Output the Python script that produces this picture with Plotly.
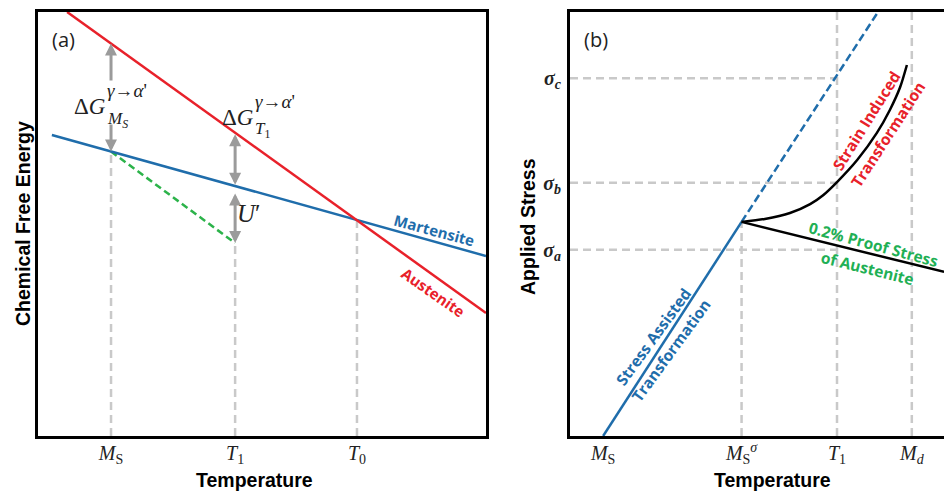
import plotly.graph_objects as go

W, H = 944, 491

# ---------------- Panel (a) data : Chemical free energy vs temperature ----------------
a_tick_vals = [1.63, 4.40, 7.12]          # M_S, T1, T0
a_tick_text = ["<i>M</i><sub>S</sub>", "<i>T</i><sub>1</sub>", "<i>T</i><sub>0</sub>"]
aus_x = [0.65, 10.0]
aus_y = [10.0, 2.90]
mart_x = [0.31, 10.0]
mart_y = [7.10, 4.245]
green_x = [1.63, 4.40]
green_y = [6.71, 4.55]
a_vline_x = [1.63, 4.40, 7.12]
a_vline_top = [6.71, 4.55, 5.09]

# ---------------- Panel (b) data : Applied stress vs temperature ----------------
b_tick_vals = [0.74, 3.83, 5.96, 7.63]     # M_S, M_S^sigma, T1, M_d
b_tick_text = ["<i>M</i><sub>S</sub>", "<i>M</i><sub>S</sub><sup><i>σ</i></sup>",
               "<i>T</i><sub>1</sub>", "<i>M</i><sub><i>d</i></sub>"]
b_ytick_vals = [4.39, 5.97, 8.44]          # sigma_a, sigma_b, sigma_c
b_ytick_text = ["<b><i>σ</i></b><sub><b><i>a</i></b></sub>",
                "<b><i>σ</i></b><sub><b><i>b</i></b></sub>",
                "<b><i>σ</i></b><sub><b><i>c</i></b></sub>"]
sat_x = [0.74, 3.83]
sat_y = [0.0, 5.05]
sat_ext_x = [3.83, 6.875]
sat_ext_y = [5.05, 10.0]
sit_x = [3.83, 4.35, 4.91, 5.36, 5.65, 5.96, 6.41, 6.85, 7.14, 7.37, 7.52]
sit_y = [5.05, 5.12, 5.26, 5.47, 5.68, 5.99, 6.51, 7.15, 7.69, 8.23, 8.75]
proof_x = [3.83, 8.35]
proof_y = [5.05, 3.87]
b_hline_y = [4.39, 5.97, 8.44]
b_hline_end = 5.96
b_vlines = [(3.83, 0.0, 5.05), (5.96, 0.0, 10.0), (7.63, 0.0, 10.0)]

RED = "#e8212a"
BLUE = "#1f6dab"
GREEN_T = "#1fb055"
GREEN_L = "#2cb34a"
GRAY_D = "#c9c9c9"
GRAY_A = "#9b9b9b"

# pixel geometry helpers (layout only)
AX0, AX1, BX0 = 38, 486, 570
YT, YB = 12, 436


def paper(x, y):
    return dict(x=x / W, y=1 - y / H, xref="paper", yref="paper")


def ya_px(py):  # pixel row -> data y (both panels share vertical scale)
    return (YB - py) / (YB - YT) * 10.0


fig = go.Figure()

gray = dict(color=GRAY_D, width=2.5, dash="8px,5px")
for xv, top in zip(a_vline_x, a_vline_top):
    fig.add_trace(go.Scatter(x=[xv, xv], y=[0, top], mode="lines", line=gray,
                             xaxis="x", yaxis="y", hoverinfo="skip"))
for yv in b_hline_y:
    fig.add_trace(go.Scatter(x=[0, b_hline_end], y=[yv, yv], mode="lines", line=gray,
                             xaxis="x2", yaxis="y2", hoverinfo="skip"))
for xv, y0, y1 in b_vlines:
    fig.add_trace(go.Scatter(x=[xv, xv], y=[y0, y1], mode="lines", line=gray,
                             xaxis="x2", yaxis="y2", hoverinfo="skip"))

fig.add_trace(go.Scatter(x=green_x, y=green_y, mode="lines",
                         line=dict(color=GREEN_L, width=2.5, dash="7px,4px"),
                         xaxis="x", yaxis="y"))
fig.add_trace(go.Scatter(x=mart_x, y=mart_y, mode="lines", line=dict(color=BLUE, width=2.5),
                         xaxis="x", yaxis="y"))
fig.add_trace(go.Scatter(x=aus_x, y=aus_y, mode="lines", line=dict(color=RED, width=2.5),
                         xaxis="x", yaxis="y"))

fig.add_trace(go.Scatter(x=sat_x, y=sat_y, mode="lines", line=dict(color=BLUE, width=2.5),
                         xaxis="x2", yaxis="y2"))
fig.add_trace(go.Scatter(x=sat_ext_x, y=sat_ext_y, mode="lines",
                         line=dict(color=BLUE, width=2.5, dash="8px,4px"),
                         xaxis="x2", yaxis="y2"))
fig.add_trace(go.Scatter(x=sit_x, y=sit_y, mode="lines",
                         line=dict(color="black", width=2.5, shape="spline", smoothing=0.7),
                         xaxis="x2", yaxis="y2"))
fig.add_trace(go.Scatter(x=proof_x, y=proof_y, mode="lines", line=dict(color="black", width=2.5),
                         xaxis="x2", yaxis="y2"))


def interp(xs, ys, x):
    return ys[0] + (ys[1] - ys[0]) * (x - xs[0]) / (xs[1] - xs[0])


MS, T1 = a_tick_vals[0], a_tick_vals[1]
arrows = []


def arrow(x, y_head, y_tail, both=False):
    d = dict(x=x, y=y_head, ax=x, ay=y_tail, xref="x", yref="y", axref="x", ayref="y",
             text="", showarrow=True, arrowhead=2, arrowsize=0.8, arrowwidth=3,
             arrowcolor=GRAY_A, standoff=0, startstandoff=0)
    if both:
        d.update(arrowside="end+start", startarrowhead=2, startarrowsize=0.8)
    arrows.append(d)


arrow(MS, interp(aus_x, aus_y, MS), ya_px(82))
arrow(MS, interp(mart_x, mart_y, MS), ya_px(123))
arrow(T1, interp(mart_x, mart_y, T1) + 0.03, interp(aus_x, aus_y, T1), both=True)
arrow(T1, green_y[1], ya_px(192), both=True)

SERIF = "Liberation Serif"
SANS_B = "Liberation Sans"
LBL = "Open Sans"


def txt(x, y, s, size, color="#222", family=SERIF, angle=0, xa="center", ya="middle", weight="normal"):
    d = paper(x, y)
    d.update(text=s, showarrow=False, textangle=angle, xanchor=xa, yanchor=ya,
             font=dict(size=size, color=color, family=family, weight=weight))
    return d


ann = arrows + [
    txt(63, 40, "(a)", 20, family=LBL),
    txt(596, 40, "(b)", 20, family=LBL),
    # delta G at M_S
    txt(90, 106, "Δ<i>G</i>", 23),
    txt(105, 91, "<i>γ</i>→<i>α</i>'", 19, xa="left"),
    txt(105, 120, "<i>M<sub>S</sub></i>", 17, xa="left"),
    # delta G at T1
    txt(238, 117, "Δ<i>G</i>", 23),
    txt(253, 101, "<i>γ</i>→<i>α</i>'", 19, xa="left"),
    txt(253, 130, "<i>T</i><sub>1</sub>", 17, xa="left"),
    txt(249, 213, "<i>U</i>′", 25),
    # curve labels
    txt(434, 230, "<b>Martensite</b>", 15, color=BLUE, family=LBL, angle=15),
    txt(433, 292, "<b>Austenite</b>", 15, color=RED, family=LBL, angle=35),
    txt(866, 121, "<b>Strain Induced</b>", 15.5, color=RED, family=LBL, angle=-58),
    txt(888, 134, "<b>Transformation</b>", 15.5, color=RED, family=LBL, angle=-57),
    txt(873, 244, "<b>0.2% Proof Stress</b>", 15.5, color=GREEN_T, family=LBL, angle=15),
    txt(867, 268, "<b>of Austenite</b>", 15.5, color=GREEN_T, family=LBL, angle=14),
    txt(653, 337, "<b>Stress Assisted</b>", 15.5, color=BLUE, family=LBL, angle=-54),
    txt(671, 350, "<b>Transformation</b>", 15.5, color=BLUE, family=LBL, angle=-54),
    # axis titles
    txt(23, 224, "<b>Chemical Free Energy</b>", 19.5, color="black", family=SANS_B, angle=-90),
    txt(254, 480, "<b>Temperature</b>", 19.5, color="black", family=SANS_B),
    txt(528, 227, "<b>Applied Stress</b>", 19.5, color="black", family=SANS_B, angle=-90),
    txt(772, 480, "<b>Temperature</b>", 19.5, color="black", family=SANS_B),
]

axis_common = dict(showline=True, linecolor="black", linewidth=3, showgrid=False,
                   zeroline=False, ticks="", fixedrange=True)

fig.update_layout(
    width=W, height=H, margin=dict(l=0, r=0, t=0, b=0),
    paper_bgcolor="white", plot_bgcolor="white", showlegend=False,
    xaxis=dict(domain=[AX0 / W, AX1 / W], range=[0, 10], mirror=True,
               tickvals=a_tick_vals, ticktext=a_tick_text, ticklabelstandoff=-3,
               tickfont=dict(family=SERIF, size=20, color="#222"), anchor="y", **axis_common),
    yaxis=dict(domain=[1 - YB / H, 1 - YT / H], range=[0, 10], mirror=True,
               showticklabels=False, anchor="x", **axis_common),
    xaxis2=dict(domain=[BX0 / W, 1.0], range=[0, (W - BX0) / 44.8], mirror=True,
                tickvals=b_tick_vals, ticktext=b_tick_text, ticklabelstandoff=-3,
                tickfont=dict(family=SERIF, size=20, color="#222"), anchor="y2", **axis_common),
    yaxis2=dict(domain=[1 - YB / H, 1 - YT / H], range=[0, 10], mirror=False,
                tickvals=b_ytick_vals, ticktext=b_ytick_text, ticklabelstandoff=2,
                tickfont=dict(family=SERIF, size=20, color="#222"), anchor="x2", **axis_common),
    annotations=ann,
)

fig.write_html("out.html")
